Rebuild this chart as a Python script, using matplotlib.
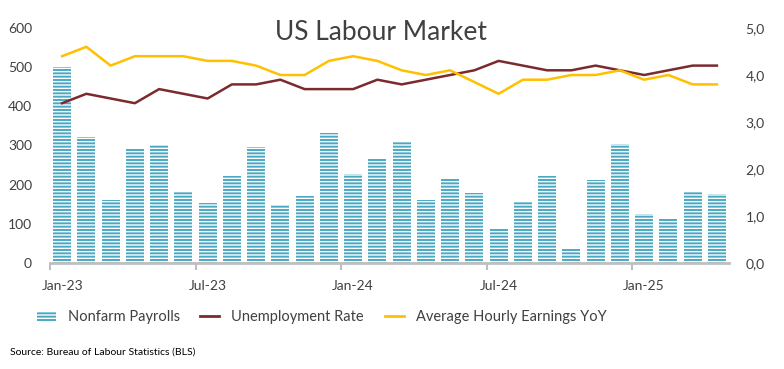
import numpy as np
import matplotlib.pyplot as plt
from matplotlib.patches import Patch
from matplotlib.lines import Line2D
from matplotlib.ticker import FuncFormatter

plt.rcParams['font.family'] = ['Lato', 'DejaVu Sans']
plt.rcParams['hatch.linewidth'] = 1.0

# monthly data Jan-23 .. Apr-25
months = ["Jan-23", "Feb-23", "Mar-23", "Apr-23", "May-23", "Jun-23", "Jul-23",
          "Aug-23", "Sep-23", "Oct-23", "Nov-23", "Dec-23", "Jan-24", "Feb-24",
          "Mar-24", "Apr-24", "May-24", "Jun-24", "Jul-24", "Aug-24", "Sep-24",
          "Oct-24", "Nov-24", "Dec-24", "Jan-25", "Feb-25", "Mar-25", "Apr-25"]
payrolls = [500, 322, 162, 292, 302, 182, 154, 223, 295, 147, 170, 331, 226, 267,
            312, 162, 216, 178, 86, 157, 221, 37, 211, 305, 124, 114, 182, 175]
unemployment = [3.4, 3.6, 3.5, 3.4, 3.7, 3.6, 3.5, 3.8, 3.8, 3.9, 3.7, 3.7, 3.7, 3.9,
                3.8, 3.9, 4.0, 4.1, 4.3, 4.2, 4.1, 4.1, 4.2, 4.1, 4.0, 4.1, 4.2, 4.2]
earnings = [4.4, 4.6, 4.2, 4.4, 4.4, 4.4, 4.3, 4.3, 4.2, 4.0, 4.0, 4.3, 4.4, 4.3,
            4.1, 4.0, 4.1, 3.85, 3.6, 3.9, 3.9, 4.0, 4.0, 4.1, 3.9, 4.0, 3.8, 3.8]
label_months = ["Jan-23", "Jul-23", "Jan-24", "Jul-24", "Jan-25"]

BAR_COLOR = "#4aa9c2"
UR_COLOR = "#7b2a2e"
AHE_COLOR = "#ffc000"
TXT = "#404040"

fig = plt.figure(figsize=(7.84, 3.69), dpi=100)
ax = fig.add_axes([50/784, 1 - 263/369, 679/784, 235/369])
ax2 = ax.twinx()

x = np.arange(len(months))
ax.bar(x, payrolls, width=0.75, color=BAR_COLOR, edgecolor="white",
       linewidth=0, hatch="-----", zorder=2)
ax2.plot(x, unemployment, color=UR_COLOR, lw=1.8, zorder=3)
ax2.plot(x, earnings, color=AHE_COLOR, lw=1.8, zorder=3)

ax.set_xlim(-0.5, len(months) - 0.5)
ax.set_ylim(0, 600)
ax.set_yticks(range(0, 601, 100))
ax2.set_ylim(0, 5)
ax2.set_yticks(np.arange(0, 5.01, 1))
ax2.yaxis.set_major_formatter(FuncFormatter(lambda v, p: f"{v:.1f}".replace(".", ",")))

label_pos = [months.index(m) for m in label_months]
ax.set_xticks(label_pos)
ax.set_xticklabels(label_months)
ax.set_xticks([p - 0.5 for p in label_pos], minor=True)
ax.tick_params(axis="x", which="major", length=0, pad=12, labelsize=10, labelcolor=TXT)
ax.tick_params(axis="x", which="minor", length=5, width=1.5, color="#bfbfbf")
ax.tick_params(axis="y", length=0, labelsize=10, labelcolor=TXT, pad=13)
ax2.tick_params(axis="y", length=0, labelsize=10, labelcolor=TXT, pad=12)

for a in (ax, ax2):
    for s in ("top", "left", "right"):
        a.spines[s].set_visible(False)
ax.spines["bottom"].set_color("#bfbfbf")
ax.spines["bottom"].set_linewidth(2)
ax2.spines["bottom"].set_visible(False)

fig.text(381/784, 1 - 32/369, "US Labour Market", ha="center", va="center",
         fontsize=19, color=TXT)

# legend: one entry per anchor so each sits where the reference has it
handles = [Patch(facecolor=BAR_COLOR, edgecolor="white", linewidth=0, hatch="-----"),
           Line2D([], [], color=UR_COLOR, lw=2),
           Line2D([], [], color=AHE_COLOR, lw=2)]
labels = ["Nonfarm Payrolls", "Unemployment Rate", "Average Hourly Earnings YoY"]
anchors = [37, 200, 385]
for h, lab, ax_px in zip(handles, labels, anchors):
    fig.legend([h], [lab], loc="center left", bbox_to_anchor=(ax_px/784, 1 - 317/369),
               frameon=False, fontsize=10.5, handlelength=1.3, handletextpad=0.8,
               borderaxespad=0, borderpad=0, labelcolor=TXT)

fig.text(10/784, 1 - 352/369, "Source: Bureau of Labour Statistics (BLS)",
         fontsize=7.5, color="black", va="center")

fig.savefig("out.png", dpi=100)
